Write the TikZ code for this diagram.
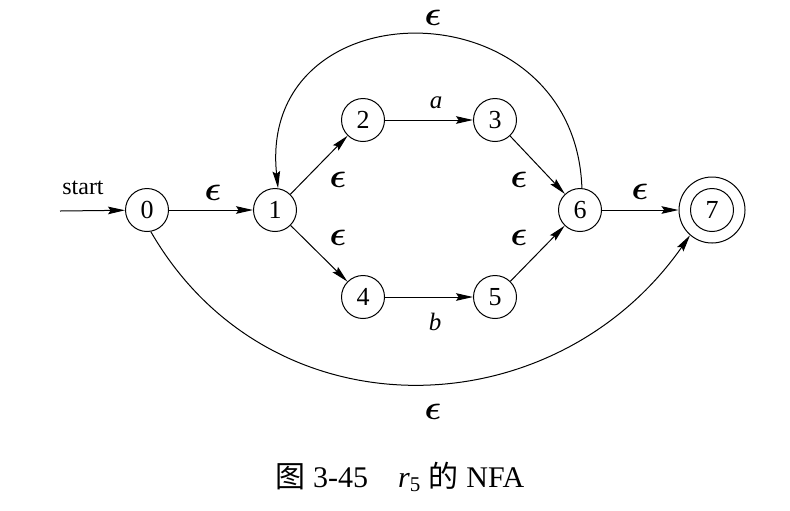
\documentclass[tikz,border=0pt]{standalone}
\usepackage{fontspec}
\setmainfont{Liberation Serif}
\newfontfamily\cjk{Noto Sans CJK SC}
\usetikzlibrary{arrows.meta}
\newcommand{\eps}{{\boldmath$\epsilon$}}
\begin{document}
\begin{tikzpicture}[x=0.5pt,y=-0.5pt,
  state/.style={circle,draw,line width=0.5pt,minimum size=21.5pt,inner sep=0pt,font=\fontsize{13}{14}\selectfont},
  edge/.style={draw,line width=0.5pt,-{Stealth[length=8.5pt,width=3.8pt,inset=1.3pt]}},
  lbl/.style={inner sep=0pt,font=\fontsize{12.5}{14}\selectfont},
  epsl/.style={inner sep=0pt,font=\fontsize{16}{18}\selectfont}]
\useasboundingbox (0,0) rectangle (790,510);
% states
\node[state] (n0) at (147,210) {0};
\node[state] (n1) at (275,210) {1};
\node[state] (n2) at (363,120) {2};
\node[state] (n3) at (495,120) {3};
\node[state] (n4) at (363,297) {4};
\node[state] (n5) at (495,297) {5};
\node[state] (n6) at (580,210) {6};
\node[state,minimum size=33pt] (n7) at (712,210) {7};
\node[state] (n7in) at (712,210) {};
% start
\coordinate (s) at (60,211);
\node[inner sep=0pt,anchor=base,font=\fontsize{12}{14}\selectfont] (startlbl) at (83,194) {start};
\draw[edge] (s) -- (n0);
% edges
\draw[edge] (n0) -- (n1);
\draw[edge] (n1) -- (n2);
\draw[edge] (n2) -- (n3);
\draw[edge] (n3) -- (n6);
\draw[edge] (n1) -- (n4);
\draw[edge] (n4) -- (n5);
\draw[edge] (n5) -- (n6);
\draw[edge] (n6) -- (n7);
\draw[edge] (n6.85) .. controls +(92:102.5pt) and +(96:102.5pt) .. (n1.82);
\draw[edge] (n0.-80) .. controls +(-60:119pt) and +(-125:119pt) .. (n7.-131);
% labels
\node[epsl] (e01) at (213,193) {\eps};
\node[epsl] (e12) at (338,180) {\eps};
\node[epsl] (e14) at (338,238) {\eps};
\node[epsl] (e36) at (519,180) {\eps};
\node[epsl] (e56) at (519,238) {\eps};
\node[epsl] (e67) at (640,192) {\eps};
\node[epsl] (etop) at (433,18) {\eps};
\node[epsl] (ebot) at (433,412) {\eps};
\node[lbl] (la) at (436,103) {\textit{a}};
\node[lbl] (lb) at (435,322) {\textit{b}};
% caption
\node[inner sep=0pt,font=\fontsize{15}{18}\selectfont] (cap) at (400,477) {{\cjk 图} 3-45\quad \textit{r}\textsubscript{5} {\cjk 的} NFA};
\end{tikzpicture}
\end{document}
